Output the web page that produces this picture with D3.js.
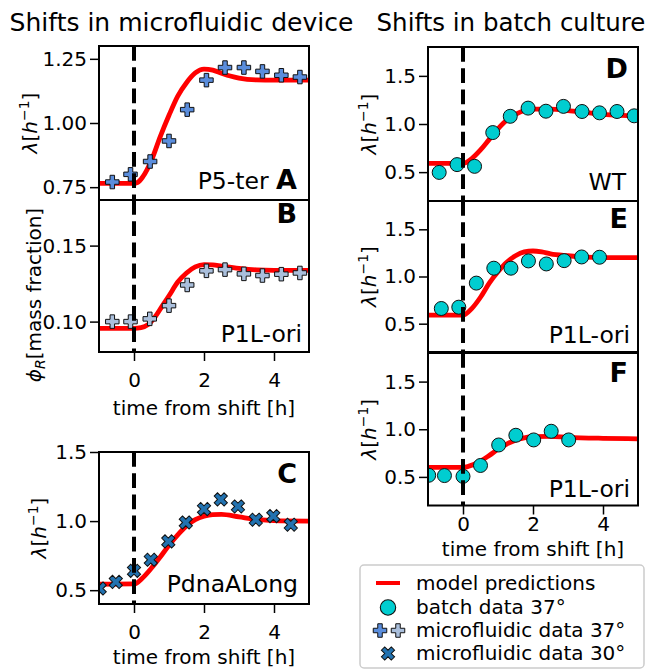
<!DOCTYPE html>
<html>
<head>
<meta charset="utf-8">
<style>
  body { margin: 0; background: #fff; }
  text { font-family: "DejaVu Sans", sans-serif; fill: #000; }
  .tick line { stroke: #000; stroke-width: 1.5px; }
  .tick text { font-size: 20px; font-family: "DejaVu Sans", sans-serif; }
</style>
</head>
<body>
<script src="https://cdn.jsdelivr.net/npm/d3@7"></script>
<script>

// ---- data (time [h], value) ----
var timeTicks = [0, 2, 4];

var pointsA = [[-0.62, 0.77], [-0.1, 0.80], [0.46, 0.85], [1.0, 0.93], [1.52, 1.052], [2.07, 1.167],
               [2.6, 1.216], [3.14, 1.216], [3.67, 1.201], [4.21, 1.186], [4.74, 1.179]];
var modelA = [[-1, 0.765], [0, 0.765], [0.1, 0.768], [0.25, 0.79], [0.5, 0.855], [0.75, 0.947], [1.0, 1.03],
              [1.25, 1.105], [1.5, 1.157], [1.75, 1.195], [2.0, 1.21], [2.25, 1.206], [2.5, 1.194],
              [2.75, 1.183], [3.0, 1.175], [3.5, 1.168], [4.0, 1.167], [5, 1.167]];

var pointsB = [[-0.62, 0.100], [-0.1, 0.100], [0.45, 0.1018], [1.0, 0.1105], [1.52, 0.1241], [2.07, 0.1334],
               [2.6, 0.1342], [3.14, 0.1314], [3.67, 0.1303], [4.21, 0.1312], [4.74, 0.1320]];
var modelB = [[-1, 0.0955], [0, 0.0955], [0.2, 0.096], [0.4, 0.098], [0.6, 0.103], [0.8, 0.110], [1.0, 0.117],
              [1.25, 0.126], [1.5, 0.132], [1.75, 0.136], [2.0, 0.1375], [2.25, 0.1373], [2.5, 0.1365],
              [3.0, 0.135], [3.5, 0.134], [4.0, 0.1337], [5, 0.1337]];

var pointsC = [[-0.98, 0.512], [-0.52, 0.56], [0.0, 0.64], [0.48, 0.72], [0.98, 0.853], [1.48, 0.99],
               [2.0, 1.087], [2.48, 1.157], [2.97, 1.106], [3.48, 1.01], [3.98, 1.036], [4.48, 0.974]];
var modelC = [[-1, 0.543], [0, 0.545], [0.25, 0.59], [0.5, 0.66], [0.75, 0.74], [1.0, 0.825], [1.25, 0.9],
              [1.5, 0.965], [1.75, 1.01], [2.0, 1.035], [2.25, 1.047], [2.5, 1.048], [3.0, 1.03],
              [3.5, 1.012], [4.0, 1.003], [5, 1.0]];

var pointsD = [[-0.68, 0.497], [-0.17, 0.578], [0.33, 0.56], [0.85, 0.911], [1.35, 1.08], [1.86, 1.165],
               [2.37, 1.133], [2.87, 1.183], [3.4, 1.13], [3.9, 1.116], [4.4, 1.13], [4.89, 1.085]];
var modelD = [[-1, 0.59], [0, 0.59], [0.25, 0.64], [0.5, 0.73], [0.75, 0.84], [1.0, 0.95], [1.25, 1.04],
              [1.5, 1.1], [1.75, 1.14], [2.0, 1.155], [2.5, 1.155], [3.0, 1.14], [3.5, 1.12], [4.0, 1.1],
              [4.5, 1.09], [5, 1.085]];

var pointsE = [[-0.62, 0.661], [-0.12, 0.675], [0.38, 0.93], [0.88, 1.088], [1.37, 1.088], [1.87, 1.165],
               [2.38, 1.133], [2.89, 1.168], [3.39, 1.207], [3.9, 1.204]];
var modelE = [[-1, 0.59], [0, 0.59], [0.25, 0.66], [0.5, 0.78], [0.75, 0.93], [1.0, 1.05], [1.25, 1.15],
              [1.5, 1.22], [1.75, 1.26], [2.0, 1.27], [2.25, 1.26], [2.5, 1.24], [3.0, 1.22], [3.5, 1.205],
              [4.0, 1.2], [5, 1.2]];

var pointsF = [[-0.98, 0.517], [-0.53, 0.514], [0.0, 0.506], [0.5, 0.62], [1.02, 0.835], [1.51, 0.937],
               [2.02, 0.888], [2.52, 0.979], [3.02, 0.888]];
var modelF = [[-1, 0.6], [0, 0.6], [0.15, 0.61], [0.5, 0.665], [0.75, 0.725], [1.0, 0.79], [1.25, 0.845],
              [1.5, 0.885], [1.75, 0.91], [2.0, 0.922], [2.5, 0.925], [3.0, 0.915], [4.0, 0.905], [5, 0.9]];

var legendLabels = ["model predictions", "batch data 37°", "microfluidic data 37°", "microfluidic data 30°"];

// ---- styling ----
var plusBlue = "#5a8ddc",
    plusLight = "#aabfdc",
    crossBlue = "#2272b0",
    batchCyan = "#00cdd0";

var width = 652, height = 672;

var svg = d3.select("body").append("svg")
    .attr("width", width)
    .attr("height", height);

// filled plus marker (like matplotlib "P")
function plusPath(s) {
    var a = s / 2, w = s / 6;
    return "M" + (-w) + "," + (-a) + "L" + w + "," + (-a) + "L" + w + "," + (-w) + "L" + a + "," + (-w) +
        "L" + a + "," + w + "L" + w + "," + w + "L" + w + "," + a + "L" + (-w) + "," + a +
        "L" + (-w) + "," + w + "L" + (-a) + "," + w + "L" + (-a) + "," + (-w) + "L" + (-w) + "," + (-w) + "Z";
}

function drawMarker(sel, kind, color) {
    if (kind == "circle") {
        sel.append("circle").attr("r", 7)
            .attr("fill", color).attr("stroke", "#111").attr("stroke-width", 1);
    } else if (kind == "plus") {
        sel.append("path").attr("d", plusPath(13.5))
            .attr("fill", color).attr("stroke", "#111").attr("stroke-width", 1);
    } else {
        sel.append("path").attr("d", plusPath(14)).attr("transform", "rotate(45)")
            .attr("fill", color).attr("stroke", "#111").attr("stroke-width", 1);
    }
}

// lambda [h^-1] label, rotated
function lambdaLabel(g, x, y) {
    var t = g.append("text")
        .attr("transform", "translate(" + x + "," + y + ") rotate(-90)")
        .attr("text-anchor", "middle")
        .style("font-size", "20px");
    t.append("tspan").style("font-style", "italic").text("λ");
    t.append("tspan").text("[");
    t.append("tspan").style("font-style", "italic").text("h");
    t.append("tspan").attr("dy", -8).style("font-size", "14px").text("−1");
    t.append("tspan").attr("dy", 8).text("]");
}

function phiLabel(g, x, y) {
    var t = g.append("text")
        .attr("transform", "translate(" + x + "," + y + ") rotate(-90)")
        .attr("text-anchor", "middle")
        .style("font-size", "20px");
    t.append("tspan").style("font-style", "italic").text("ϕ");
    t.append("tspan").attr("dy", 4).style("font-style", "italic").style("font-size", "14px").text("R");
    t.append("tspan").attr("dy", -4).text("[mass fraction]");
}

var panels = [
    { name: "A", points: pointsA, model: modelA, marker: "plus", color: plusBlue,
      left: 99, right: 309, top: 46, bottom: 200, yDomain: [0.70, 1.30], yTicks: [0.75, 1.00, 1.25], fmt: ".2f",
      note: "P5-ter", noteX: 297, noteY: 188.5, letterInline: true, ylabel: "lambda", ylabelX: 36.5 },
    { name: "B", points: pointsB, model: modelB, marker: "plus", color: plusLight,
      left: 99, right: 309, top: 200, bottom: 352, yDomain: [0.08, 0.18], yTicks: [0.10, 0.15], fmt: ".2f",
      note: "P1L-ori", noteX: 302, noteY: 341.5, letterX: 297, letterY: 223, ylabel: "phi", ylabelX: 41, ylabelY: 295,
      xAxis: true, xPad: 12, xLabelY: 415 },
    { name: "C", points: pointsC, model: modelC, marker: "cross", color: crossBlue,
      left: 99, right: 309, top: 452, bottom: 604, yDomain: [0.4, 1.5], yTicks: [0.5, 1.0, 1.5], fmt: ".1f",
      note: "PdnaALong", noteX: 298, noteY: 592, letterX: 297, letterY: 483, ylabel: "lambda", ylabelX: 46,
      xAxis: true, xPad: 12, xLabelY: 664 },
    { name: "D", points: pointsD, model: modelD, marker: "circle", color: batchCyan,
      left: 428, right: 638, top: 47, bottom: 201, yDomain: [0.2, 1.8], yTicks: [0.5, 1.0, 1.5], fmt: ".1f",
      note: "WT", noteX: 626, noteY: 190, letterX: 628, letterY: 78, ylabel: "lambda", ylabelX: 376 },
    { name: "E", points: pointsE, model: modelE, marker: "circle", color: batchCyan,
      left: 428, right: 638, top: 201, bottom: 352, yDomain: [0.2, 1.8], yTicks: [0.5, 1.0, 1.5], fmt: ".1f",
      note: "P1L-ori", noteX: 630, noteY: 343, letterX: 628, letterY: 228, ylabel: "lambda", ylabelX: 376 },
    { name: "F", points: pointsF, model: modelF, marker: "circle", color: batchCyan,
      left: 428, right: 638, top: 353, bottom: 505.5, yDomain: [0.2, 1.8], yTicks: [0.5, 1.0, 1.5], fmt: ".1f",
      note: "P1L-ori", noteX: 630, noteY: 496.5, letterX: 628, letterY: 381.5, ylabel: "lambda", ylabelX: 376,
      xAxis: true, xPad: 2, xLabelY: 556 }
];

panels.forEach(function (p) {
    var x = d3.scaleLinear().domain([-1, 5]).range([p.left, p.right]);
    var y = d3.scaleLinear().domain(p.yDomain).range([p.bottom, p.top]);
    var g = svg.append("g").attr("class", "panel");

    svg.append("clipPath").attr("id", "clip" + p.name)
        .append("rect")
        .attr("x", p.left).attr("y", p.top)
        .attr("width", p.right - p.left).attr("height", p.bottom - p.top);

    var plot = g.append("g").attr("clip-path", "url(#clip" + p.name + ")");

    var line = d3.line()
        .x(function (d) { return x(d[0]); })
        .y(function (d) { return y(d[1]); })
        .curve(d3.curveMonotoneX);

    plot.append("path")
        .datum(p.model)
        .attr("d", line)
        .attr("fill", "none")
        .attr("stroke", "#ff0000")
        .attr("stroke-width", 4.8);

    plot.selectAll(".pt")
        .data(p.points)
        .enter().append("g")
        .attr("class", "pt")
        .attr("transform", function (d) { return "translate(" + x(d[0]) + "," + y(d[1]) + ")"; })
        .each(function () { drawMarker(d3.select(this), p.marker, p.color); });

    // shift moment
    plot.append("line")
        .attr("x1", x(0)).attr("x2", x(0))
        .attr("y1", p.top).attr("y2", p.bottom)
        .attr("stroke", "#000")
        .attr("stroke-width", 4)
        .attr("stroke-dasharray", "14.8,6.4");

    // axes
    var yAxis = d3.axisLeft(y)
        .tickValues(p.yTicks)
        .tickSize(9)
        .tickPadding(3)
        .tickFormat(d3.format(p.fmt));
    g.append("g")
        .attr("transform", "translate(" + p.left + ",0)")
        .call(yAxis)
        .call(function (a) { a.select(".domain").remove(); });

    if (p.xAxis) {
        var xAxis = d3.axisBottom(x)
            .tickValues(timeTicks)
            .tickSize(9)
            .tickPadding(p.xPad)
            .tickFormat(d3.format("d"));
        g.append("g")
            .attr("transform", "translate(0," + p.bottom + ")")
            .call(xAxis)
            .call(function (a) { a.select(".domain").remove(); });

        g.append("text")
            .attr("x", (p.left + p.right) / 2)
            .attr("y", p.xLabelY)
            .attr("text-anchor", "middle")
            .style("font-size", "20px")
            .text("time from shift [h]");
    }

    // frame
    g.append("rect")
        .attr("x", p.left).attr("y", p.top)
        .attr("width", p.right - p.left).attr("height", p.bottom - p.top)
        .attr("fill", "none")
        .attr("stroke", "#000")
        .attr("stroke-width", 2);

    // strain note + panel letter
    if (p.letterInline) {
        var t = g.append("text")
            .attr("x", p.noteX).attr("y", p.noteY)
            .attr("text-anchor", "end");
        t.append("tspan").style("font-size", "23.5px").text(p.note + " ");
        t.append("tspan").style("font-size", "27px").style("font-weight", "bold").text(p.name);
    } else {
        g.append("text")
            .attr("x", p.noteX).attr("y", p.noteY)
            .attr("text-anchor", "end")
            .style("font-size", "23.5px")
            .text(p.note);
        g.append("text")
            .attr("x", p.letterX).attr("y", p.letterY)
            .attr("text-anchor", "end")
            .style("font-size", "27px")
            .style("font-weight", "bold")
            .text(p.name);
    }

    var ly = p.ylabelY || (p.top + p.bottom) / 2;
    if (p.ylabel == "phi") phiLabel(g, p.ylabelX, ly);
    else lambdaLabel(g, p.ylabelX, ly);
});

// titles
svg.append("text")
    .attr("x", 181.5).attr("y", 31)
    .attr("text-anchor", "middle")
    .style("font-size", "25px")
    .text("Shifts in microfluidic device");

svg.append("text")
    .attr("x", 511).attr("y", 31)
    .attr("text-anchor", "middle")
    .style("font-size", "24.5px")
    .text("Shifts in batch culture");

// legend
var legend = svg.append("g").attr("class", "legend");
legend.append("rect")
    .attr("x", 360).attr("y", 565)
    .attr("width", 284).attr("height", 103)
    .attr("rx", 4)
    .attr("fill", "#fff")
    .attr("stroke", "#cccccc")
    .attr("stroke-width", 1.5);

var rowY = [590, 614, 637, 660];

legend.append("line")
    .attr("x1", 376).attr("x2", 400)
    .attr("y1", rowY[0] - 7).attr("y2", rowY[0] - 7)
    .attr("stroke", "#ff0000").attr("stroke-width", 4);

drawMarker(legend.append("g").attr("transform", "translate(388," + (rowY[1] - 6.5) + ") scale(1.1)"), "circle", batchCyan);
drawMarker(legend.append("g").attr("transform", "translate(380," + (rowY[2] - 6.5) + ")"), "plus", plusBlue);
drawMarker(legend.append("g").attr("transform", "translate(398," + (rowY[2] - 6.5) + ")"), "plus", plusLight);
drawMarker(legend.append("g").attr("transform", "translate(388," + (rowY[3] - 6.5) + ")"), "cross", crossBlue);

legend.selectAll(".lab")
    .data(legendLabels)
    .enter().append("text")
    .attr("class", "lab")
    .attr("x", 416)
    .attr("y", function (d, i) { return rowY[i]; })
    .style("font-size", "20px")
    .text(function (d) { return d; });

</script>
</body>
</html>
